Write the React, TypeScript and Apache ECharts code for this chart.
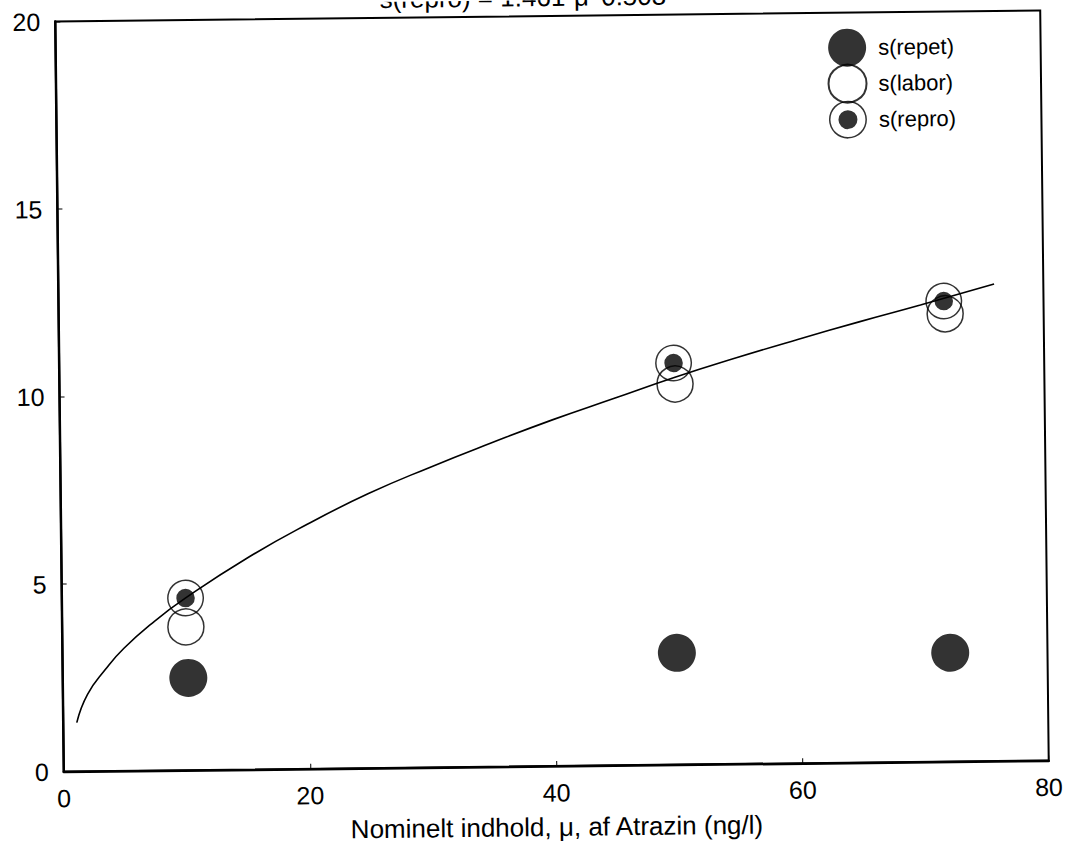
import React, { useEffect, useRef } from "react";
import * as echarts from "echarts";

const xTicks = [0, 20, 40, 60, 80];
const yTicks = [0, 5, 10, 15, 20];
const repet: [number, number][] = [[10.2, 2.46], [49.9, 2.98], [72.1, 2.9]];
const labor: [number, number][] = [[10.05, 3.82], [50.0, 10.15], [72.0, 11.94]];
const repro: [number, number][] = [[10.05, 4.59], [49.9, 10.71], [71.9, 12.28]];
const fitCurve: [number, number][] = [
  [1.1, 1.3], [2, 2.05], [3.5, 2.72], [5, 3.27], [7.5, 3.98], [10, 4.58], [15, 5.62], [20, 6.52],
  [25, 7.32], [30, 8.0], [35, 8.63], [40, 9.23], [45, 9.78], [50, 10.33], [55, 10.83],
  [60, 11.3], [65, 11.75], [70, 12.18], [76, 12.72],
];
const xName = "Nominelt indhold, μ, af Atrazin (ng/l)";
const titleText = "s(repro) = 1.461·μ^0.503";
const legendNames = ["s(repet)", "s(labor)", "s(repro)"];

const FONT = "'Liberation Sans', Arial, sans-serif";
const ringDot =
  "path://M0,-50A50,50 0 1 1 0,50A50,50 0 1 1 0,-50Z" +
  "M0,-46A46,46 0 1 0 0,46A46,46 0 1 0 0,-46Z" +
  "M0,-25A25,25 0 1 1 0,25A25,25 0 1 1 0,-25Z";

export default function App() {
  const ref = useRef<HTMLDivElement>(null);
  useEffect(() => {
    if (!ref.current) return;
    const chart = echarts.init(ref.current, null, { renderer: "svg" });
    chart.setOption({
      animation: false,
      backgroundColor: "#fff",
      textStyle: { fontFamily: FONT },
      graphic: [
        {
          type: "text",
          left: 384,
          top: -16,
          style: { text: titleText, fontSize: 26, fontFamily: FONT, fill: "#000" },
        },
      ],
      grid: { left: 59.5, right: 25.5, top: 16, bottom: 83, show: true, borderColor: "#000", borderWidth: 2 },
      legend: {
        orient: "vertical",
        left: 826,
        top: 27,
        itemWidth: 52,
        itemHeight: 38,
        itemGap: -3,
        data: legendNames,
        textStyle: { fontSize: 22, fontFamily: FONT, color: "#000" },
      },
      xAxis: {
        type: "value",
        min: xTicks[0],
        max: xTicks[xTicks.length - 1],
        interval: 20,
        name: xName,
        nameLocation: "middle",
        nameGap: 48,
        nameTextStyle: { fontSize: 26, fontFamily: FONT, color: "#000" },
        axisLine: { lineStyle: { color: "#000", width: 2.5 } },
        axisTick: { inside: true, length: 5, lineStyle: { color: "#000" } },
        axisLabel: { fontSize: 25, color: "#000", margin: 14, fontFamily: FONT },
        splitLine: { show: false },
      },
      yAxis: {
        type: "value",
        min: yTicks[0],
        max: yTicks[yTicks.length - 1],
        interval: 5,
        axisLine: { show: true, lineStyle: { color: "#000", width: 2.5 } },
        axisTick: { show: true, inside: true, length: 5, lineStyle: { color: "#000" } },
        axisLabel: { fontSize: 25, color: "#000", margin: 15, fontFamily: FONT },
        splitLine: { show: false },
      },
      series: [
        {
          name: legendNames[0],
          type: "scatter",
          data: repet,
          symbol: "circle",
          symbolSize: 38,
          itemStyle: { color: "#000" },
        },
        {
          name: legendNames[1],
          type: "scatter",
          data: labor,
          symbol: "circle",
          symbolSize: 36,
          itemStyle: { color: "rgba(255,255,255,0)", borderColor: "#000", borderWidth: 1.5 },
        },
        {
          name: legendNames[2],
          type: "scatter",
          data: repro,
          symbol: ringDot,
          symbolSize: 37,
          itemStyle: { color: "#000" },
        },
        {
          name: "fit",
          type: "line",
          data: fitCurve,
          smooth: true,
          showSymbol: false,
          lineStyle: { color: "#000", width: 1.6 },
        },
      ],
    });
    return () => chart.dispose();
  }, []);
  return (
    <div
      ref={ref}
      style={{
        position: "absolute",
        left: 0,
        top: 0,
        width: 1070,
        height: 849,
        transform: "rotate(-0.65deg)",
        transformOrigin: "552px 391px",
      }}
    />
  );
}
